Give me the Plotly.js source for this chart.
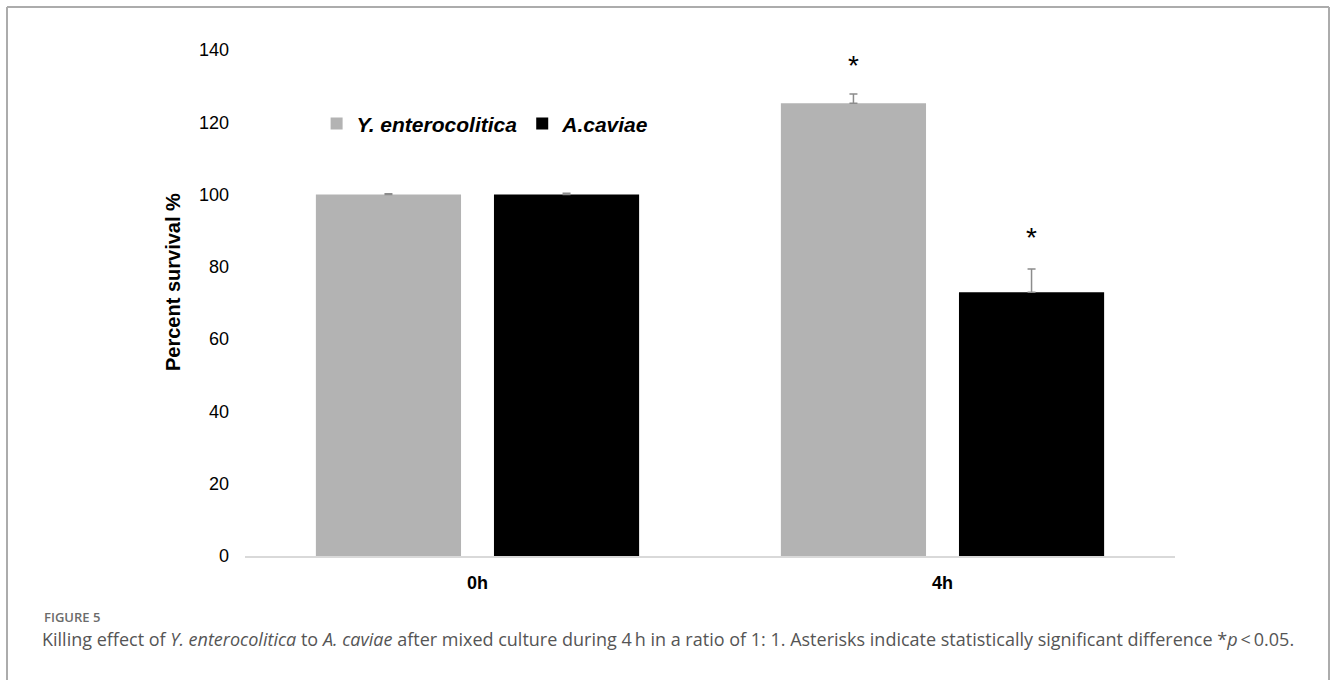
<!DOCTYPE html>
<html>
<head>
<meta charset="utf-8">
<script src="https://cdn.plot.ly/plotly-3.0.1.min.js"></script>
<style>
html,body{margin:0;padding:0;background:#fff;}
#chart{width:1331px;height:680px;}
</style>
</head>
<body>
<div id="chart"></div>
<script>
// Data
const categories = ["0h", "4h"];
const seriesNames = ["Y. enterocolitica", "A.caviae"];
const yEnterocolitica = [100, 125.3];
const yEnterocoliticaErr = [0.2, 2.5];
const aCaviae = [100, 73.0];
const aCaviaeErr = [0.4, 6.4];
const sigCategory = [1, 1];
const sigSeries = [0, 1];
const sigLabels = ["*", "*"];
const sigY = [135.6, 88.0];
const yTicks = [0, 20, 40, 60, 80, 100, 120, 140];
const yTitle = "Percent survival %";

const barColors = ["#b3b3b3", "#000000"];

const bargap = 0.234;
const groupW = 1 - bargap;
const offsets = [-groupW / 4, groupW / 4];

// pixel helpers for paper coords (plot area: x 245..1175, y 50..556)
const px = v => (v - 245) / 930;
const py = v => (556 - v) / 506;

const traces = [
  {
    type: "bar", name: seriesNames[0], x: categories, y: yEnterocolitica,
    marker: {color: barColors[0]},
    error_y: {type: "data", array: yEnterocoliticaErr, symmetric: false, arrayminus: [0, 0],
              color: "#8c8c8c", thickness: 1.5, width: 4}
  },
  {
    type: "bar", name: seriesNames[1], x: categories, y: aCaviae,
    marker: {color: barColors[1]},
    error_y: {type: "data", array: aCaviaeErr, symmetric: false, arrayminus: [0, 0],
              color: "#8c8c8c", thickness: 1.5, width: 4}
  }
];

const annotations = sigLabels.map((lab, i) => ({
  x: sigCategory[i] + offsets[sigSeries[i]], y: sigY[i], xref: "x", yref: "y",
  text: lab, showarrow: false,
  font: {family: "Liberation Sans, Arial, sans-serif", size: 28, color: "#000"},
  yanchor: "middle"
}));

annotations.push({
  xref: "paper", yref: "paper", x: px(173), y: py(282),
  xanchor: "center", yanchor: "middle", showarrow: false, textangle: -90,
  text: "<b>" + yTitle + "</b>",
  font: {family: "Liberation Sans, Arial, sans-serif", size: 20, color: "#000"}
});

annotations.push({
  xref: "paper", yref: "paper",
  x: px(42), y: py(617),
  xanchor: "left", yanchor: "middle", showarrow: false,
  text: "FIGURE 5",
  font: {family: "Open Sans, Noto Sans, sans-serif", size: 13, weight: 600, color: "#6b6b6b"}
});
annotations.push({
  xref: "paper", yref: "paper",
  x: px(40), y: py(639),
  xanchor: "left", yanchor: "middle", showarrow: false,
  text: "Killing effect of <i>Y. enterocolitica</i> to <i>A. caviae</i> after mixed culture during 4\u2009h in a ratio of 1: 1. Asterisks indicate statistically significant difference *<i>p</i>\u2009&lt;\u20090.05.",
  font: {family: "Open Sans, Noto Sans, sans-serif", size: 18, color: "#555"}
});

const frameColor = "#acacac";
const shapes = [
  {type: "line", xref: "paper", yref: "paper",
   x0: px(7), x1: px(1329), y0: py(7), y1: py(7),
   line: {color: frameColor, width: 2}},
  {type: "line", xref: "paper", yref: "paper",
   x0: px(7), x1: px(7), y0: py(7), y1: py(690),
   line: {color: frameColor, width: 2}},
  {type: "line", xref: "paper", yref: "paper",
   x0: px(1329), x1: px(1329), y0: py(7), y1: py(690),
   line: {color: frameColor, width: 2}}
];

const layout = {
  width: 1331, height: 680,
  margin: {l: 245, r: 156, t: 50, b: 124},
  paper_bgcolor: "#fff", plot_bgcolor: "#fff",
  barmode: "group", bargap: bargap, bargroupgap: 0.185,
  font: {family: "Liberation Sans, Arial, sans-serif", color: "#000"},
  xaxis: {
    type: "category", range: [-0.5, 1.5],
    showline: true, linecolor: "#d9d9d9", linewidth: 1.5,
    ticks: "", showgrid: false, zeroline: false,
    tickfont: {family: "Liberation Sans, Arial, sans-serif", size: 18, weight: "bold", color: "#000"},
    ticklabelstandoff: 10
  },
  yaxis: {
    range: [0, 140], tickvals: yTicks, ticktext: yTicks.map(String),
    showline: false, showgrid: false, zeroline: false, ticks: "",
    tickfont: {family: "Liberation Sans, Arial, sans-serif", size: 18, color: "#000"},
    ticklabelstandoff: 15
  },
  legend: {
    orientation: "h", x: 0.077, y: 0.854, xanchor: "left", yanchor: "middle",
    font: {family: "Liberation Sans, Arial, sans-serif", size: 21, weight: "bold", style: "italic", color: "#000"},
    itemwidth: 30, bgcolor: "rgba(0,0,0,0)"
  },
  showlegend: true,
  annotations: annotations,
  shapes: shapes
};

Plotly.newPlot("chart", traces, layout, {displayModeBar: false, staticPlot: true});
</script>
</body>
</html>
